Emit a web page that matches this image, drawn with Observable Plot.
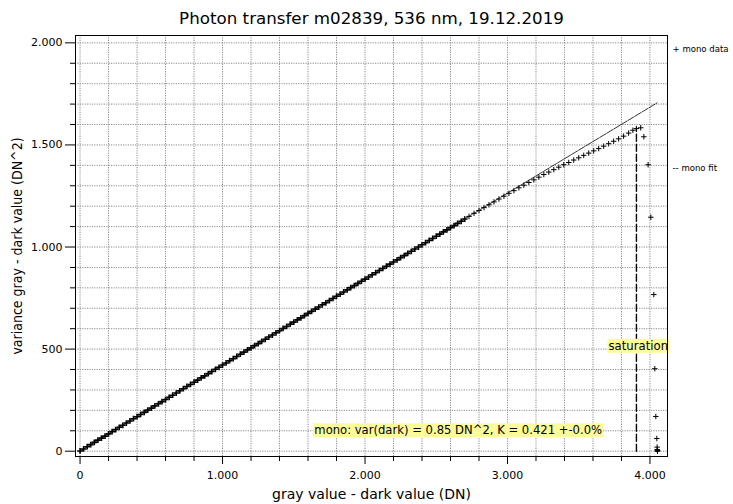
<!DOCTYPE html>
<html><head><meta charset="utf-8">
<script src="https://cdn.jsdelivr.net/npm/d3@7"></script>
<script src="https://cdn.jsdelivr.net/npm/@observablehq/plot@0.6"></script>
<style>body{margin:0;background:#fff} svg{display:block}</style>
</head><body><div id="chart"></div>
<script>
const FONT = "'DejaVu Sans',sans-serif";
const FONT_C = "'DejaVu Sans Condensed','DejaVu Sans',sans-serif";
const title = "Photon transfer m02839, 536 nm, 19.12.2019";
const xLabel = "gray value - dark value (DN)";
const yLabel = "variance gray - dark value (DN^2)";

const xTicks = [0, 1000, 2000, 3000, 4000];
const xTickLabels = ["0", "1.000", "2.000", "3.000", "4.000"];
const xMinor = [200, 400, 600, 800, 1200, 1400, 1600, 1800, 2200, 2400, 2600, 2800, 3200, 3400, 3600, 3800];
const xGrid = [0, 200, 400, 600, 800, 1000, 1200, 1400, 1600, 1800, 2000, 2200, 2400, 2600, 2800, 3000, 3200, 3400, 3600, 3800, 4000];
const yTicks = [0, 500, 1000, 1500, 2000];
const yTickLabels = ["0", "500", "1.000", "1.500", "2.000"];
const yMinor = [100, 200, 300, 400, 600, 700, 800, 900, 1100, 1200, 1300, 1400, 1600, 1700, 1800, 1900];
const yGrid = [0, 100, 200, 300, 400, 500, 600, 700, 800, 900, 1000, 1100, 1200, 1300, 1400, 1500, 1600, 1700, 1800, 1900, 2000];

// mono data: linear part
const linMean = [0,25,50,75,100,125,150,175,200,225,250,275,300,325,350,375,400,425,450,475,500,525,550,575,600,625,650,675,700,725,750,775,800,825,850,875,900,925,950,975,1000,1025,1050,1075,1100,1125,1150,1175,1200,1225,1250,1275,1300,1325,1350,1375,1400,1425,1450,1475,1500,1525,1550,1575,1600,1625,1650,1675,1700,1725,1750,1775,1800,1825,1850,1875,1900,1925,1950,1975,2000,2025,2050,2075,2100,2125,2150,2175,2200,2225,2250,2275,2300,2325,2350,2375,2400,2425,2450,2475,2500,2525,2550,2575,2600,2625,2650,2675,2700];
const linVar = [1,11,22,32,43,54,64,74,85,96,106,117,127,138,148,159,169,180,190,201,211,222,232,243,253,264,274,285,296,306,317,327,338,348,359,369,380,390,401,411,422,432,443,453,464,475,485,496,506,517,527,538,548,559,569,580,590,601,611,622,632,643,653,664,675,685,696,706,717,727,738,748,759,769,780,790,801,811,822,832,843,853,864,874,885,895,906,916,927,937,948,958,969,979,990,1000,1011,1021,1032,1042,1053,1063,1074,1084,1095,1105,1116,1126,1137];
// mono data: compressing part
const upMean = [2730,2765,2800,2835,2870,2905,2940,2975,3010,3045,3080,3115,3150,3185,3220,3255,3290,3325,3360,3395,3430,3465,3500,3535,3570,3605,3640,3675,3710,3745,3780,3815,3850,3880,3905,3935];
const upVar = [1150,1165,1179,1193,1207,1221,1235,1249,1263,1276,1290,1303,1316,1329,1342,1355,1367,1379,1391,1403,1414,1426,1437,1449,1460,1471,1482,1494,1506,1518,1530,1543,1558,1572,1580,1584];
// mono data: saturated tail
const tailMean = [3957, 3987, 4006, 4027, 4034, 4041, 4048, 4050, 4051, 4052, 4053, 4053];
const tailVar = [1540, 1403, 1146, 767, 404, 170, 62, 20, 8, 4, 2, 0];

// mono fit
const fitMean = [0, 4050];
const fitVar = [1, 1706];
// saturation marker
const satMean = [3905, 3905];
const satVar = [0, 1586];

const noteText = "mono: var(dark) = 0.85 DN^2, K = 0.421 +-0.0%";
const notePos = {x: 2654, y: 101};
const satText = "saturation";
const satPos = {x: 3918, y: 515};
const legendData = "+ mono data";
const legendFit = "-- mono fit";

const linPts = linMean.map((m, i) => ({m, v: linVar[i]}));
const otherPts = [
  ...upMean.map((m, i) => ({m, v: upVar[i]})),
  ...tailMean.map((m, i) => ({m, v: tailVar[i]}))
];
const fit = fitMean.map((m, i) => ({m, v: fitVar[i]}));
const sat = satMean.map((m, i) => ({m, v: satVar[i]}));

const fmtX = d => xTickLabels[xTicks.indexOf(d)];
const fmtY = d => yTickLabels[yTicks.indexOf(d)];
const none = () => "";

const chart = Plot.plot({
  width: 733, height: 504,
  marginLeft: 75, marginRight: 66, marginTop: 35, marginBottom: 48,
  style: {fontFamily: FONT, background: "#fff", color: "black"},
  x: {domain: [-32, 4123]},
  y: {domain: [-26, 2036]},
  marks: [
    Plot.gridX(xGrid, {stroke: "#8c8c8c", strokeOpacity: 1, strokeDasharray: "1.2,1.2"}),
    Plot.gridY(yGrid, {stroke: "#8c8c8c", strokeOpacity: 1, strokeDasharray: "1.2,1.2"}),
    Plot.axisX(xMinor, {tickSize: 5, tickFormat: none, label: null, stroke: "black"}),
    Plot.axisX(xTicks, {tickSize: 8, tickPadding: 7, tickFormat: fmtX, label: null, fontSize: 11, stroke: "black"}),
    Plot.axisY(yMinor, {tickSize: 5, tickFormat: none, label: null, stroke: "black"}),
    Plot.axisY(yTicks, {tickSize: 10, tickPadding: 3, tickFormat: fmtY, label: null, fontSize: 11, stroke: "black"}),
    Plot.line(fit, {x: "m", y: "v", stroke: "black", strokeWidth: 0.8, strokeDasharray: "7,1.2"}),
    Plot.line(sat, {x: "m", y: "v", stroke: "black", strokeWidth: 1.4, strokeDasharray: "7,3"}),
    Plot.dot(linPts, {x: "m", y: "v", symbol: "plus", r: 2, stroke: "black", strokeWidth: 1.6}),
    Plot.dot(otherPts, {x: "m", y: "v", symbol: "plus", r: 1.9, stroke: "black", strokeWidth: 1}),
    Plot.text([noteText], {x: () => notePos.x, y: () => notePos.y, fontSize: 11.6, fill: "black"}),
    Plot.text([satText], {x: () => satPos.x, y: () => satPos.y, fontSize: 11.7, fill: "black"}),
    Plot.frame({stroke: "black", strokeWidth: 1}),
    Plot.text([title], {frameAnchor: "top", dy: -17, fontSize: 16.7, lineAnchor: "middle"}),
    Plot.text([xLabel], {frameAnchor: "bottom", dy: 38, fontSize: 14, lineAnchor: "middle"}),
    Plot.text([yLabel], {frameAnchor: "left", dx: -58, rotate: -90, fontSize: 14, fontFamily: FONT_C, lineAnchor: "middle", textAnchor: "middle"}),
    Plot.text([legendData], {frameAnchor: "top-right", dx: 5, dy: 13, fontSize: 9.5, textAnchor: "start", lineAnchor: "middle", fontFamily: FONT_C}),
    Plot.text([legendFit], {frameAnchor: "top-right", dx: 5, dy: 132, fontSize: 9.5, textAnchor: "start", lineAnchor: "middle", fontFamily: FONT_C})
  ]
});
document.getElementById("chart").appendChild(chart);

// yellow label backgrounds
d3.select(chart).selectAll("text").each(function() {
  const t = this.textContent;
  if (t === noteText || t === satText) {
    const b = this.getBBox();
    const r = document.createElementNS("http://www.w3.org/2000/svg", "rect");
    r.setAttribute("x", b.x - 1);
    r.setAttribute("y", b.y);
    r.setAttribute("width", b.width + 2);
    r.setAttribute("height", b.height);
    r.setAttribute("fill", "#fbfb9c");
    const tr = this.getAttribute("transform");
    if (tr) r.setAttribute("transform", tr);
    this.parentNode.insertBefore(r, this);
  }
});
</script>
</body></html>
